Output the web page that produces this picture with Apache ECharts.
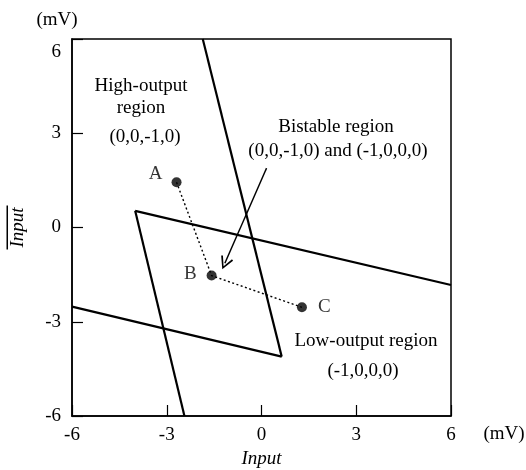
<!DOCTYPE html>
<html><head><meta charset="utf-8">
<script src="https://cdn.jsdelivr.net/npm/echarts@6/dist/echarts.min.js"></script>
<style>html,body{margin:0;padding:0;background:#fff}#c{width:526px;height:470px}</style>
</head><body><div id="c"></div>
<script>
// axis ticks
const xTickValues = [-6, -3, 0, 3, 6];
const yTickValues = [-6, -3, 0, 3, 6];
// region boundary segments [x, y] in mV
const boundaryA = [[-1.86, 6], [0.64, -4.11]];
const boundaryB = [[-4.0, 0.53], [6, -1.83]];
const boundaryC = [[-6, -2.52], [0.64, -4.11]];
const boundaryD = [[-4.0, 0.53], [-2.44, -6]];
// trajectory points
const pointNames = ['A', 'B', 'C'];
const pointX = [-2.69, -1.58, 1.28];
const pointY = [1.44, -1.53, -2.54];
// annotation arrow
const arrowLine = [[0.16, 1.89], [-1.16, -1.14]];

const F = 'Liberation Serif, Times New Roman, serif';
const FS = 19;
const chart = echarts.init(document.getElementById('c'));
const segStyle = {color: '#000', width: 2.2};
function seg(d) {
  return {type: 'line', data: d, symbol: 'none', lineStyle: segStyle, silent: true, z: 3};
}
const labelPos = {A: 'left', B: 'left', C: 'right'};
const labelOff = {A: [-1, -8], B: [-2, -2], C: [3, 0]};
const pts = pointNames.map((n, i) => ({name: n, value: [pointX[i], pointY[i]],
  label: {position: labelPos[n], offset: labelOff[n]}}));

chart.setOption({
  animation: false,
  grid: {left: 72, top: 39, width: 379, height: 377, show: true, borderColor: '#000', borderWidth: 1.5,
    containLabel: false, outerBoundsMode: 'none'},
  xAxis: {
    type: 'value', min: -6, max: 6, interval: 3,
    axisLine: {show: true, onZero: false, lineStyle: {color: '#000', width: 1.5}},
    axisTick: {show: true, inside: true, length: 11, lineStyle: {color: '#000', width: 1.2},
      customValues: xTickValues},
    axisLabel: {color: '#000', fontFamily: F, fontSize: FS, margin: 10, customValues: xTickValues},
    splitLine: {show: false},
    name: 'Input', nameLocation: 'middle', nameGap: 27,
    nameTextStyle: {color: '#000', fontFamily: F, fontSize: FS, fontStyle: 'italic'}
  },
  yAxis: {
    type: 'value', min: -6, max: 6, interval: 3,
    axisLine: {show: true, onZero: false, lineStyle: {color: '#000', width: 1.5}},
    axisTick: {show: true, inside: true, length: 11, lineStyle: {color: '#000', width: 1.2},
      customValues: yTickValues},
    axisLabel: {color: '#000', fontFamily: F, fontSize: FS, margin: 11, customValues: yTickValues,
      formatter: v => v === 6 ? '{top|6}' : String(v),
      rich: {top: {fontFamily: F, fontSize: FS, color: '#000', padding: [26, 0, 0, 0]}}},
    splitLine: {show: false},
    name: '{bar|}\n{t|Input}', nameLocation: 'middle', nameGap: 45, nameRotate: 90,
    nameTextStyle: {color: '#000', fontFamily: F, fontSize: FS,
      rich: {bar: {width: 44, height: 1.5, backgroundColor: '#000', align: 'center'},
             t: {fontFamily: F, fontSize: FS, fontStyle: 'italic', color: '#000', align: 'center', lineHeight: 19}}}
  },
  series: [
    seg(boundaryA), seg(boundaryB), seg(boundaryC), seg(boundaryD),
    {type: 'line', data: pts.map(p => p.value), symbol: 'none', silent: true, z: 2,
     lineStyle: {color: '#000', width: 1.4, type: [2, 2.5]}},
    {type: 'scatter', data: pts, symbol: 'circle', symbolSize: 10, z: 5,
     itemStyle: {color: '#000'},
     label: {show: true, formatter: p => p.name, color: '#000', fontFamily: F, fontSize: FS,
       position: 'left', distance: 8}},
    {type: 'lines', coordinateSystem: 'cartesian2d', z: 4, silent: true,
     data: [{coords: arrowLine}],
     symbol: ['none', 'path://M0,0 L5,11 L3.8,11.8 L0,3 L-3.8,11.8 L-5,11 Z'], symbolSize: 13,
     lineStyle: {color: '#000', width: 1.4, opacity: 1}}
  ],
  graphic: [
    {type: 'text', x: 57, y: 20, style: {text: '(mV)', font: FS + 'px ' + F, fill: '#000', textAlign: 'center', textVerticalAlign: 'middle'}},
    {type: 'text', x: 504, y: 434, style: {text: '(mV)', font: FS + 'px ' + F, fill: '#000', textAlign: 'center', textVerticalAlign: 'middle'}},
    {type: 'text', x: 141, y: 86, style: {text: 'High-output', font: FS + 'px ' + F, fill: '#000', textAlign: 'center', textVerticalAlign: 'middle'}},
    {type: 'text', x: 141, y: 108, style: {text: 'region', font: FS + 'px ' + F, fill: '#000', textAlign: 'center', textVerticalAlign: 'middle'}},
    {type: 'text', x: 145, y: 137, style: {text: '(0,0,-1,0)', font: FS + 'px ' + F, fill: '#000', textAlign: 'center', textVerticalAlign: 'middle'}},
    {type: 'text', x: 336, y: 127, style: {text: 'Bistable region', font: FS + 'px ' + F, fill: '#000', textAlign: 'center', textVerticalAlign: 'middle'}},
    {type: 'text', x: 338, y: 151, style: {text: '(0,0,-1,0) and (-1,0,0,0)', font: FS + 'px ' + F, fill: '#000', textAlign: 'center', textVerticalAlign: 'middle'}},
    {type: 'text', x: 366, y: 341, style: {text: 'Low-output region', font: FS + 'px ' + F, fill: '#000', textAlign: 'center', textVerticalAlign: 'middle'}},
    {type: 'text', x: 363, y: 371, style: {text: '(-1,0,0,0)', font: FS + 'px ' + F, fill: '#000', textAlign: 'center', textVerticalAlign: 'middle'}}
  ]
});
</script></body></html>
